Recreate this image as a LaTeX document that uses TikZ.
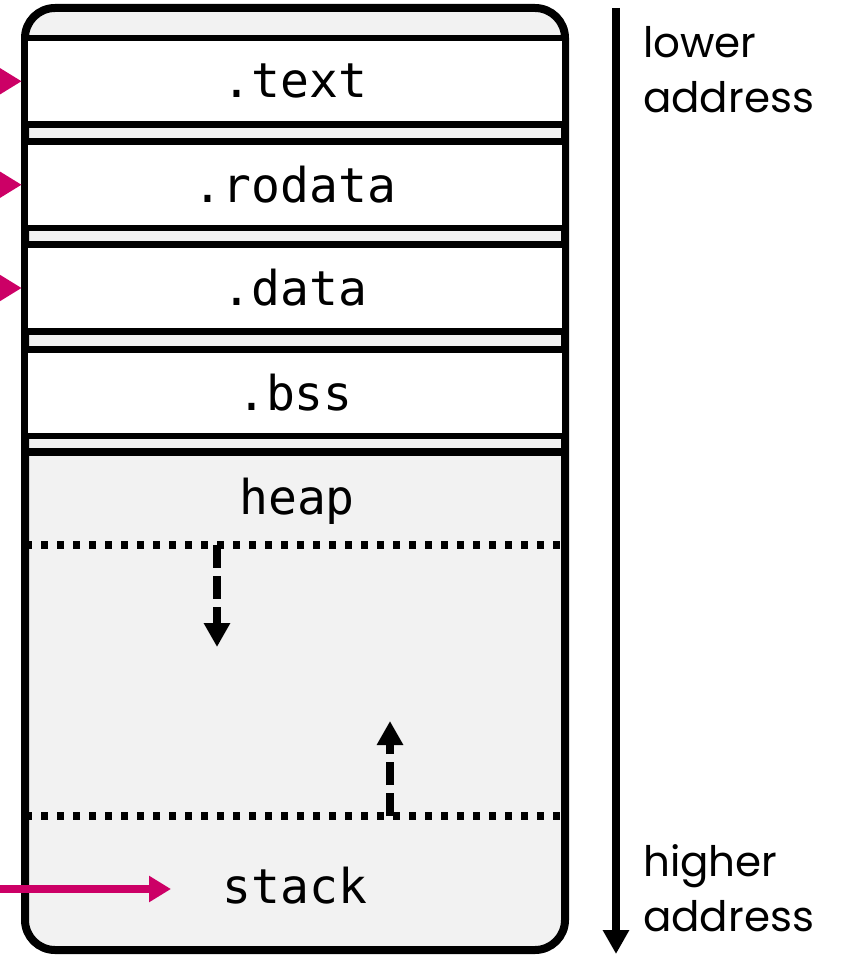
\documentclass[tikz,border=0pt]{standalone}
\usepackage{fontspec}
\setmonofont{DejaVu Sans Mono}
\setsansfont{Poppins}
\usetikzlibrary{arrows.meta}
\definecolor{pointer}{RGB}{204,0,102}
\definecolor{panel}{RGB}{242,242,242}
\begin{document}
\begin{tikzpicture}[x=1pt,y=-1pt,
  seg/.style={draw=black, line width=6.5pt, fill=white, inner sep=0pt,
    minimum width=540pt, minimum height=86.5pt,
    font=\fontsize{48}{52}\selectfont\ttfamily},
  codelbl/.style={inner sep=0pt, font=\fontsize{48}{52}\selectfont\ttfamily},
  addr/.style={inner sep=0pt, align=left, anchor=north west,
    font=\fontsize{42}{55}\selectfont\sffamily},
  ptr/.style={draw=pointer, line width=8pt, -{Triangle[length=22pt,width=25pt]}},
  boundary/.style={line width=7.5pt, dash pattern=on 7pt off 9pt},
  growth/.style={line width=8pt, dash pattern=on 23pt off 8pt,
    -{Triangle[length=24pt,width=25pt]}},
]
\useasboundingbox (0,0) rectangle (843,957);

% process image outline
\draw[line width=8pt, fill=panel, rounded corners=30pt] (25,8) rectangle (565,950);

% loaded sections
\node[seg] (text)   at (295,81.25)  {.text};
\node[seg] (rodata) at (295,184.75) {.rodata};
\node[seg] (data)   at (295,288)    {.data};
\node[seg] (bss)    at (295,392.5)  {.bss};

% top of the heap
\draw[line width=7.5pt] (25,452) -- (565,452);
\node[codelbl] (heap) at (297,501) {heap};

% growth limits of heap and stack
\coordinate (heapL) at (25,545);
\coordinate (heapR) at (562,545);
\coordinate (stackL) at (25,816);
\coordinate (stackR) at (562,816);
\draw[boundary] (heapL) -- (heapR);
\draw[boundary] (stackL) -- (stackR);

\coordinate (hs) at (217,545);
\coordinate (he) at (217,647);
\coordinate (ss) at (390,816);
\coordinate (se) at (390,721);
\draw[growth] (hs) -- (he);
\draw[growth] (ss) -- (se);

\node[codelbl] (stack) at (295,886) {stack};

% incoming pointers
\coordinate (p1) at (-2,81.25);
\coordinate (p2) at (-2,184.75);
\coordinate (p3) at (-2,288);
\coordinate (p4) at (-2,889);
\coordinate (stacktip) at (171,889);
\draw[ptr] (p1) -- (text.west);
\draw[ptr] (p2) -- (rodata.west);
\draw[ptr] (p3) -- (data.west);
\draw[ptr] (p4) -- (stacktip);

% address direction
\coordinate (a0) at (616,8);
\coordinate (a1) at (616,954);
\draw[line width=7.5pt, -{Triangle[length=24pt,width=25pt]}] (a0) -- (a1);
\node[addr] (lower) at (643,26) {lower\\address};
\node[addr] (higher) at (643,844) {higher\\address};
\end{tikzpicture}
\end{document}
